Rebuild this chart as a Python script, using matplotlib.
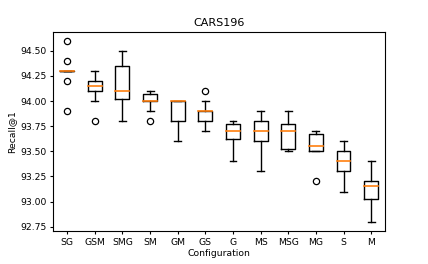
import matplotlib
matplotlib.use("Agg")
import matplotlib.pyplot as plt

configs = ["SG", "GSM", "SMG", "SM", "GM", "GS", "G", "MS", "MSG", "MG", "S", "M"]
whislo = [94.30, 94.00, 93.80, 93.90, 93.60, 93.70, 93.40, 93.30, 93.50, 93.50, 93.10, 92.80]
q1     = [94.30, 94.10, 94.025, 94.00, 93.80, 93.80, 93.625, 93.60, 93.525, 93.50, 93.30, 93.025]
med    = [94.30, 94.15, 94.10, 94.00, 94.00, 93.90, 93.70, 93.70, 93.70, 93.55, 93.40, 93.15]
q3     = [94.30, 94.20, 94.35, 94.075, 94.00, 93.90, 93.775, 93.80, 93.775, 93.675, 93.50, 93.20]
whishi = [94.30, 94.30, 94.50, 94.10, 94.00, 94.00, 93.80, 93.90, 93.90, 93.70, 93.60, 93.40]
fliers = [[94.60, 94.40, 94.20, 93.90], [93.80], [], [93.80], [], [94.10], [], [], [], [93.20], [], []]

stats = []
for i, name in enumerate(configs):
    stats.append(dict(label=name, whislo=whislo[i], q1=q1[i], med=med[i],
                      q3=q3[i], whishi=whishi[i], fliers=fliers[i]))

fig = plt.figure(figsize=(4.28, 2.64), dpi=100)
ax = fig.add_axes([53.3/428, 1-230.7/264, (385-53.3)/428, (230.7-31.7)/264])
lw = 1.0
ax.bxp(stats, showfliers=True,
       boxprops=dict(linewidth=lw),
       whiskerprops=dict(linewidth=lw),
       capprops=dict(linewidth=lw),
       medianprops=dict(linewidth=1.2, color="#ff7f0e", zorder=3,
                        solid_capstyle="projecting"),
       flierprops=dict(marker="o", markersize=4.5, markerfacecolor="none",
                       markeredgecolor="black", markeredgewidth=0.9))
ax.set_yticks([92.75, 93.00, 93.25, 93.50, 93.75, 94.00, 94.25, 94.50])
ax.set_yticklabels(["92.75", "93.00", "93.25", "93.50", "93.75", "94.00", "94.25", "94.50"])
ax.set_ylim(92.71, 94.69)
ax.tick_params(labelsize=6.7, width=0.8, length=2.5, pad=2.5)
for s in ax.spines.values():
    s.set_linewidth(0.8)
ax.set_xlabel("Configuration", fontsize=6.7, labelpad=1.5)
ax.set_ylabel("Recall@1", fontsize=6.7, labelpad=2.5)
ax.set_title("CARS196", fontsize=8, pad=4)
fig.savefig("out.png", dpi=100)
